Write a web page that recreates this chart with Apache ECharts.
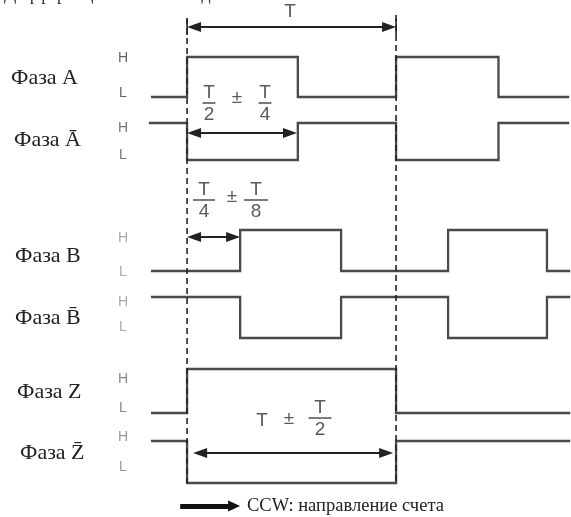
<!DOCTYPE html>
<html><head><meta charset="utf-8">
<script src="https://cdn.jsdelivr.net/npm/echarts@6/dist/echarts.min.js"></script>
<style>html,body{margin:0;padding:0;background:#fff}#c{width:571px;height:517px}</style>
</head><body><div id="c"></div>
<script>
// ---------- data ----------
const titleText = 'Дифференциальный выход';
const phaseNames = ['Фаза A', 'Фаза \u0100', 'Фаза B', 'Фаза B\u0304', 'Фаза Z', 'Фаза Z\u0304'];
const levelNames = ['H', 'L'];
// time axis in periods T (0 = first dashed line, 1 = second dashed line)
const edgesA = [0, 0.53, 1.0, 1.49];
const edgesB = [0.254, 0.737, 1.249, 1.722];
const edgesZ = [0, 1.0];
const spanA = [-0.167, 1.823];
const spanAbar = [-0.177, 1.823];
const spanB = [-0.167, 1.828];
const spanZ = [-0.167, 1.828];
// signal levels [H, L] (vertical units)
const levelsA = [46.0, 42.0];
const levelsAbar = [39.4, 35.7];
const levelsB = [28.7, 24.6];
const levelsBbar = [22.0, 17.9];
const levelsZ = [14.8, 10.4];
const levelsZbar = [7.6, 3.4];
const startHigh = [false, true, false, true, false, true];
// dashed period markers: x, [yTop, yBottom]
const markerX = [0, 1];
const markerY = [[49.9, 3.4], [50.2, 3.4]];
// measurement arrows: [x0, x1, y]
const arrowT = [0, 1, 49.0];
const arrowHalf = [0, 0.526, 38.4];
const arrowQuarter = [0, 0.254, 28.0];
const arrowZ = [0.029, 0.986, 6.4];
const arrowLegend = [-0.033, 0.254, 1.1];
const legendText = 'CCW: направление счета';
const fracHalf = ['T', '2', 'T', '4'];
const fracQuarter = ['T', '4', 'T', '8'];
const fracZ = ['T', 'T', '2'];

// ---------- build ----------
function stepPoints(span, edges, high, lv) {
  let cur = high ? lv[0] : lv[1];
  const pts = [[span[0], cur]];
  edges.forEach(function (t) {
    pts.push([t, cur]);
    cur = (cur === lv[0]) ? lv[1] : lv[0];
    pts.push([t, cur]);
  });
  pts.push([span[1], cur]);
  return pts;
}
const signals = [
  [spanA, edgesA, levelsA], [spanAbar, edgesA, levelsAbar],
  [spanB, edgesB, levelsB], [spanB, edgesB, levelsBbar],
  [spanZ, edgesZ, levelsZ], [spanZ, edgesZ, levelsZbar]
];
const sigColor = '#4a4a4a';
const series = signals.map(function (s, i) {
  return {
    type: 'line', data: stepPoints(s[0], s[1], startHigh[i], s[2]),
    symbol: 'none', silent: true,
    lineStyle: { color: sigColor, width: 2.3, cap: 'square', join: 'miter' }
  };
});
markerX.forEach(function (x, i) {
  series.push({
    type: 'line', data: [[x, markerY[i][0]], [x, markerY[i][1]]], symbol: 'none', silent: true,
    lineStyle: { color: '#222', width: 1.6, type: [6, 4] }
  });
});

const chart = echarts.init(document.getElementById('c'), null, { renderer: 'canvas' });
chart.setOption({
  animation: false,
  backgroundColor: '#fff',
  grid: { left: 0, right: 0, top: 0, bottom: 0 },
  xAxis: { type: 'value', min: -0.895, max: 1.837, show: false },
  yAxis: { type: 'value', min: 0, max: 51.7, show: false },
  series: series
});

// arrows: markLine symbols are centred on the end points, so pull the ends in by half a head
const headLen = 14, legendHead = 12;
function arrowItem(a, insetFrom, insetTo) {
  const p0 = chart.convertToPixel({ gridIndex: 0 }, [a[0], a[2]]);
  const p1 = chart.convertToPixel({ gridIndex: 0 }, [a[1], a[2]]);
  const c0 = chart.convertFromPixel({ gridIndex: 0 }, [p0[0] + insetFrom, p0[1]]);
  const c1 = chart.convertFromPixel({ gridIndex: 0 }, [p1[0] - insetTo, p1[1]]);
  return [{ coord: c0 }, { coord: c1 }];
}
series.push({
  type: 'line', data: [], silent: true,
  markLine: {
    silent: true, animation: false,
    symbol: ['triangle', 'triangle'], symbolSize: [10, headLen],
    label: { show: false },
    lineStyle: { color: '#222', width: 2, type: 'solid' },
    data: [arrowT, arrowHalf, arrowQuarter, arrowZ].map(function (a) { return arrowItem(a, headLen / 2, headLen / 2); })
  }
});
series.push({
  type: 'line', data: [], silent: true,
  markLine: {
    silent: true, animation: false,
    symbol: ['none', 'triangle'], symbolSize: [11, legendHead],
    label: { show: false },
    lineStyle: { color: '#111', width: 5, type: 'solid' },
    data: [arrowItem(arrowLegend, 0, legendHead / 2)]
  }
});
// short solid ticks at the ends of the T arrow
markerX.forEach(function (x) {
  series.push({
    type: 'line', data: [[x, arrowT[2] + 0.8], [x, arrowT[2] - 0.8]], symbol: 'none', silent: true,
    lineStyle: { color: '#222', width: 1.6 }
  });
});

// ---------- text ----------
const serif = '"Liberation Serif", "DejaVu Serif", serif';
const sans = '"Liberation Sans", Arial, sans-serif';
const g = [];
function txt(x, y, s, o) {
  o = o || {};
  g.push({ type: 'text', x: x, y: y, silent: true, style: {
    text: s, fill: o.color || '#222', font: o.font,
    textAlign: o.align || 'left', textVerticalAlign: o.valign || 'middle' } });
}
function line(x1, y1, x2, y2, c, w) {
  g.push({ type: 'line', silent: true, shape: { x1: x1, y1: y1, x2: x2, y2: y2 }, style: { stroke: c, lineWidth: w } });
}
const fracFont = '19px ' + sans;
const fracColor = '#5a5a5a';
function frac(cx, ly, w, num, den) {
  txt(cx, ly - 1, num, { font: fracFont, color: fracColor, align: 'center', valign: 'bottom' });
  line(cx - w / 2, ly, cx + w / 2, ly, fracColor, 1.6);
  txt(cx, ly + 2, den, { font: fracFont, color: fracColor, align: 'center', valign: 'top' });
}
txt(4, 4, titleText, { font: '18px ' + serif, color: '#333', valign: 'bottom' });
// phase names
const phaseY = [78, 140, 256, 318, 392, 453];
const phaseX = [11, 14, 15, 15, 17, 20];
phaseNames.forEach(function (n, i) { txt(phaseX[i], phaseY[i], n, { font: '22px ' + serif, color: '#222' }); });
// H / L
const hlY = [[58, 93], [128, 155], [238, 272], [302, 327], [379, 408], [437, 467]];
const hlColor = ['#666', '#777', '#aaa', '#aaa', '#888', '#999'];
hlY.forEach(function (p, i) {
  txt(118, p[0], levelNames[0], { font: '14px ' + sans, color: hlColor[i] });
  txt(119, p[1], levelNames[1], { font: '14px ' + sans, color: hlColor[i] });
});
// measurement labels
txt(290, 12, 'T', { font: fracFont, color: fracColor, align: 'center' });
frac(209, 103, 13, fracHalf[0], fracHalf[1]);
txt(237, 98, '±', { font: fracFont, color: fracColor, align: 'center' });
frac(265, 103, 13, fracHalf[2], fracHalf[3]);
frac(204, 200, 22, fracQuarter[0], fracQuarter[1]);
txt(232, 197, '±', { font: fracFont, color: fracColor, align: 'center' });
frac(256, 200, 24, fracQuarter[2], fracQuarter[3]);
txt(262, 421, fracZ[0], { font: fracFont, color: fracColor, align: 'center' });
txt(289, 419, '±', { font: fracFont, color: fracColor, align: 'center' });
frac(320, 418, 23, fracZ[1], fracZ[2]);
// legend text
txt(247, 506, legendText, { font: '18.5px ' + serif, color: '#222' });
chart.setOption({ series: series, graphic: { elements: g } });
</script></body></html>
